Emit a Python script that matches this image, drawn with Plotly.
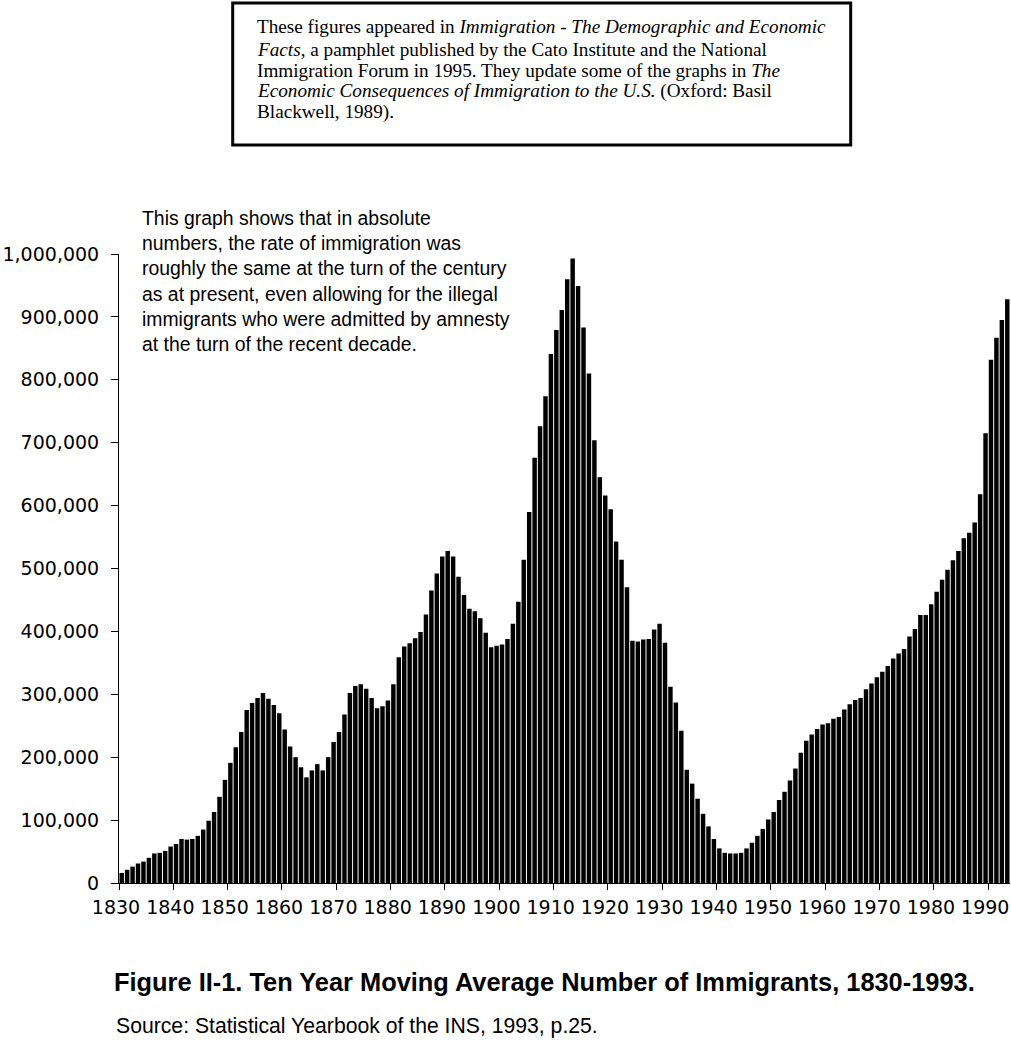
import plotly.graph_objects as go

# ---- data ----
years = list(range(1830, 1994))
immigrants = [
    16000, 21000, 26000, 31000, 34000, 40000, 47000, 48000, 51000, 58000,        # 1830s
    62000, 70000, 69000, 70000, 75000, 85000, 99000, 113000, 137000, 164000,     # 1840s
    191000, 216000, 240000, 275000, 286000, 294000, 302000, 293000, 283000, 270000,  # 1850s
    244000, 217000, 200000, 184000, 168000, 179000, 189000, 179000, 200000, 224000,  # 1860s
    240000, 268000, 302000, 313000, 316000, 309000, 294000, 278000, 281000, 290000,  # 1870s
    316000, 359000, 376000, 381000, 389000, 399000, 427000, 465000, 492000, 519000,  # 1880s
    528000, 519000, 487000, 458000, 436000, 432000, 421000, 398000, 375000, 377000,  # 1890s
    379000, 388000, 412000, 447000, 514000, 590000, 676000, 726000, 774000, 841000,  # 1900s
    879000, 911000, 960000, 993000, 949000, 883000, 810000, 704000, 645000, 616000,  # 1910s
    594000, 543000, 514000, 470000, 385000, 384000, 387000, 388000, 403000, 412000,  # 1920s
    382000, 312000, 287000, 242000, 180000, 158000, 134000, 110000, 90000, 70000,    # 1930s
    55000, 48000, 47000, 47000, 48000, 55000, 64000, 75000, 86000, 101000,           # 1940s
    113000, 132000, 145000, 163000, 182000, 207000, 226000, 236000, 245000, 252000,  # 1950s
    254000, 261000, 264000, 276000, 284000, 291000, 294000, 308000, 317000, 327000,  # 1960s
    336000, 345000, 357000, 365000, 372000, 392000, 404000, 426000, 426000, 443000,  # 1970s
    463000, 482000, 498000, 513000, 528000, 548000, 557000, 573000, 618000, 715000,  # 1980s
    832000, 867000, 895000, 928000,                                                  # 1990-1993
]
x_ticks = list(range(1830, 1991, 10))
x_tick_labels = [str(y) for y in x_ticks]
y_ticks = list(range(0, 1000001, 100000))
y_tick_labels = [f"{v:,}" for v in y_ticks]

note_text = ("This graph shows that in absolute<br>numbers, the rate of immigration was<br>"
             "roughly the same at the turn of the century<br>as at present, even allowing for the illegal<br>"
             "immigrants who were admitted by amnesty<br>at the turn of the recent decade.")
box_lines = [
    "These figures appeared in <i>Immigration - The Demographic and Economic</i>",
    "<i>Facts</i>, a pamphlet published by the Cato Institute and the National",
    "Immigration Forum in 1995. They update some of the graphs in <i>The</i>",
    "<i>Economic Consequences of Immigration to the U.S.</i> (Oxford: Basil",
    "Blackwell, 1989).",
]
box_line_y = [1.3609, 1.3259, 1.2925, 1.2591, 1.2258]
title_text = "<b>Figure II-1. Ten Year Moving Average Number of Immigrants, 1830-1993.</b>"
source_text = "Source: Statistical Yearbook of the INS, 1993, p.25."

fig = go.Figure()
fig.add_trace(go.Bar(
    x=years, y=immigrants,
    offset=0.09, width=0.82,
    marker=dict(color="black", line=dict(width=0)),
    hoverinfo="x+y",
))

fig.update_layout(
    width=1011, height=1047,
    margin=dict(l=119, r=1, t=254, b=164, autoexpand=False),
    plot_bgcolor="white", paper_bgcolor="white",
    showlegend=False,
    xaxis=dict(
        range=[1830, 1994], tickmode="array", tickvals=x_ticks, ticktext=x_tick_labels,
        ticks="outside", ticklen=6, tickwidth=1, tickcolor="black", tickangle=0,
        showline=True, linecolor="black", linewidth=1, automargin=False,
        showgrid=False, zeroline=False, ticklabeloverflow="allow", ticklabelshift=-3,
        tickfont=dict(family="DejaVu Sans", size=19, color="black"), ticklabelstandoff=1,
    ),
    yaxis=dict(
        range=[0, 1000000], tickmode="array", tickvals=y_ticks, ticktext=y_tick_labels,
        ticks="outside", ticklen=7, tickwidth=1, tickcolor="black",
        showline=True, linecolor="black", linewidth=1, automargin=False,
        showgrid=False, zeroline=False,
        tickfont=dict(family="DejaVu Sans", size=19, color="black"), ticklabelstandoff=8,
    ),
)

# top box
fig.add_shape(type="rect", xref="paper", yref="paper",
              x0=0.1276, x1=0.8212, y0=1.1733, y1=1.3990,
              line=dict(color="black", width=3), fillcolor="white", layer="above")
for line, yy in zip(box_lines, box_line_y):
    fig.add_annotation(xref="paper", yref="paper", x=0.153, y=yy,
                       xanchor="left", yanchor="middle", align="left", showarrow=False,
                       text=line,
                       font=dict(family="Liberation Serif", size=19.2, color="black"))
# note
fig.add_annotation(xref="paper", yref="paper", x=0.024, y=1.078,
                   xanchor="left", yanchor="top", align="left", showarrow=False,
                   text=note_text,
                   font=dict(family="Liberation Sans", size=19.4, color="black"))
# caption
fig.add_annotation(xref="paper", yref="paper", x=-0.008, y=-0.157,
                   xanchor="left", yanchor="middle", align="left", showarrow=False,
                   text=title_text,
                   font=dict(family="Liberation Sans", size=25.4, color="black"))
fig.add_annotation(xref="paper", yref="paper", x=-0.006, y=-0.227,
                   xanchor="left", yanchor="middle", align="left", showarrow=False,
                   text=source_text,
                   font=dict(family="Liberation Sans", size=21.2, color="black"))

fig.write_html("out.html", config={"displayModeBar": False},
               post_script="document.body.style.margin='0';document.body.style.overflow='hidden';")
